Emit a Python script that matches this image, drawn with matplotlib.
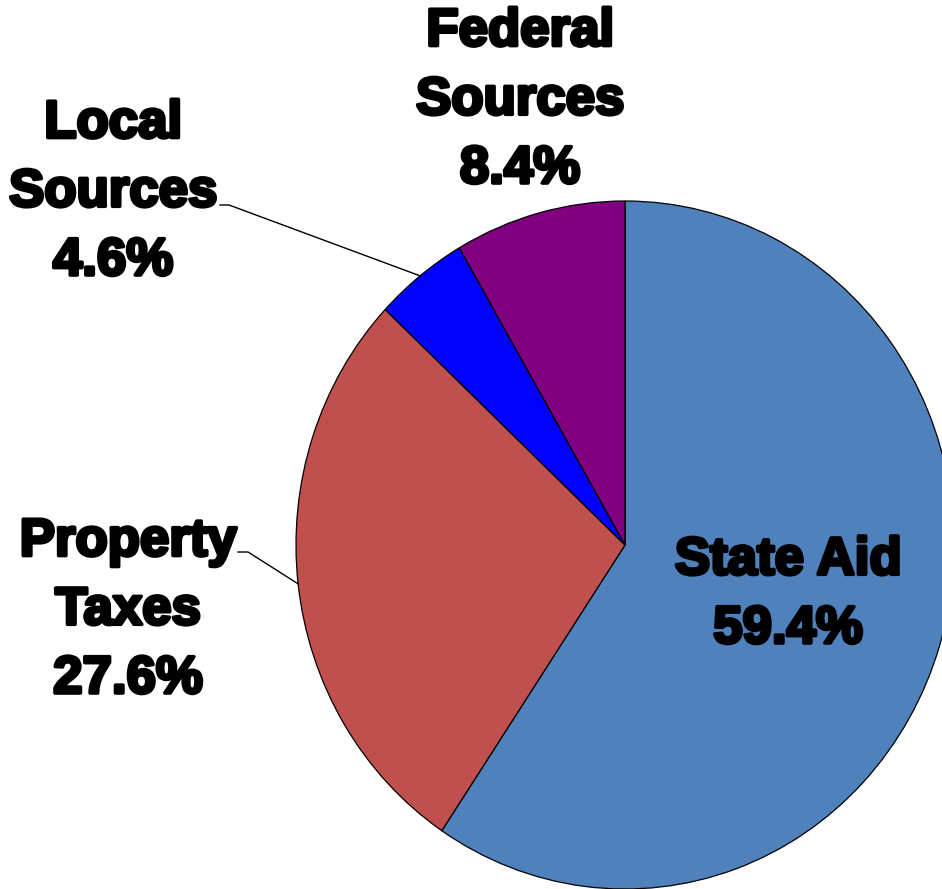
import numpy as np
import matplotlib
matplotlib.use('Agg')
import matplotlib.pyplot as plt
import matplotlib.patheffects as pe

labels = ['State Aid', 'Property\nTaxes', 'Local\nSources', 'Federal\nSources']
shares = [59.4, 27.6, 4.6, 8.4]
colors = ['#4F81BD', '#C0504D', '#0000FF', '#800080']

W, H = 942, 889
cx, cy = 625, 545          # pie centre in pixels (from top-left)
rx, ry = 329, 344          # the pie is drawn slightly taller than wide

fig = plt.figure(figsize=(W / 100, H / 100), dpi=100)
ax = fig.add_axes([0, 0, 1, 1])

wedges, _ = ax.pie(shares, colors=colors, startangle=90, counterclock=False,
                   wedgeprops=dict(edgecolor='black', linewidth=0.9))
ax.set_aspect('auto')
ax.set_xlim(-cx / rx, (W - cx) / rx)
ax.set_ylim(-(H - cy) / ry, cy / ry)
ax.axis('off')


def to_data(px, py):
    return (px - cx) / rx, (cy - py) / ry


font = dict(family='Liberation Sans', fontweight='bold', fontsize=38,
            color='black', ha='center', va='baseline', linespacing=1.48,
            multialignment='center',
            path_effects=[pe.withStroke(linewidth=2.6, foreground='black')])

# baseline of the last line of each label block, in pixels
anchors = [(788, 643), (128, 693), (113, 275), (520, 183)]
for lab, val, (px, py) in zip(labels, shares, anchors):
    x, y = to_data(px, py)
    ax.text(x, y, f'{lab}\n{val:.1f}%', **font)

# leader lines for the two labels outside the pie
leaders = {1: [(238, 552), (248, 552)], 2: [(220, 205), (229, 205)]}
for i, pts in leaders.items():
    w = wedges[i]
    mid = np.deg2rad((w.theta1 + w.theta2) / 2)
    ex, ey = np.cos(mid), np.sin(mid)
    xs = [to_data(*p)[0] for p in pts] + [ex]
    ys = [to_data(*p)[1] for p in pts] + [ey]
    ax.plot(xs, ys, color='black', linewidth=1.0)

fig.savefig('out.png', dpi=100)
